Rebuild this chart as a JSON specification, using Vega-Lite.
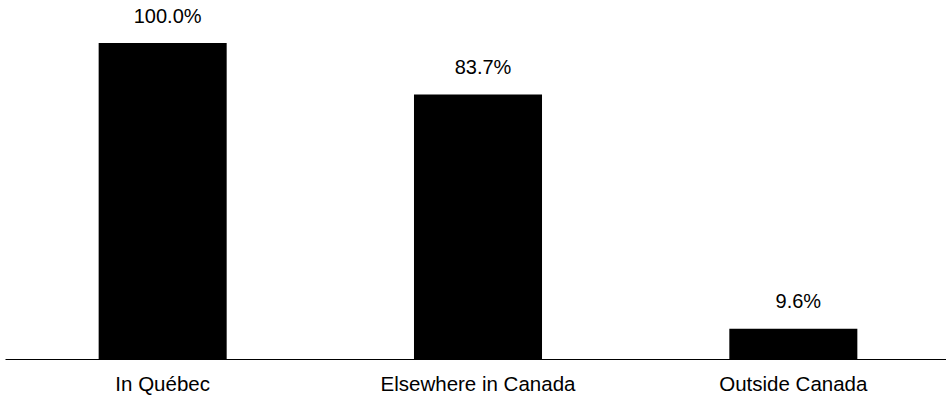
{
  "$schema": "https://vega.github.io/schema/vega-lite/v6.json",
  "autosize": "none",
  "width": 941,
  "height": 316,
  "padding": {"left": 5, "top": 43, "right": 0, "bottom": 37},
  "background": "white",
  "config": {
    "view": {"stroke": null},
    "font": "Liberation Sans"
  },
  "data": {
    "values": [
      {"location": "In Québec", "share": 1.0},
      {"location": "Elsewhere in Canada", "share": 0.837},
      {"location": "Outside Canada", "share": 0.096}
    ]
  },
  "encoding": {
    "x": {
      "field": "location",
      "type": "nominal",
      "sort": null,
      "scale": {"range": [0, 946], "paddingInner": 0.594, "paddingOuter": 0.297},
      "axis": {
        "title": null,
        "labelAngle": 0,
        "labelFont": "Liberation Sans",
        "labelFontSize": 20.5,
        "labelColor": "#000000",
        "labelBaseline": "alphabetic",
        "labelPadding": 31,
        "labelLimit": 0,
        "ticks": false,
        "tickSize": 0,
        "domainColor": "#000000",
        "domainWidth": 1,
        "grid": false
      }
    },
    "y": {
      "field": "share",
      "type": "quantitative",
      "scale": {"domain": [0, 1], "nice": false},
      "axis": null
    }
  },
  "layer": [
    {"mark": {"type": "bar", "color": "#000000"}},
    {
      "mark": {
        "type": "text",
        "font": "Liberation Sans",
        "fontSize": 20,
        "color": "#000000",
        "baseline": "alphabetic",
        "dx": 5,
        "dy": -20.5
      },
      "encoding": {
        "text": {"field": "share", "type": "quantitative", "format": ".1%"}
      }
    }
  ]
}
